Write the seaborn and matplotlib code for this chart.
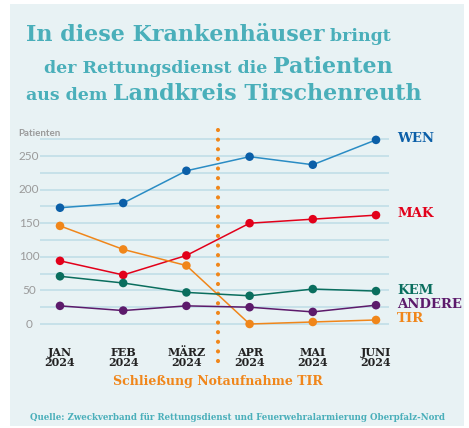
import pandas as pd
import numpy as np
import matplotlib
matplotlib.use('Agg')
import matplotlib.pyplot as plt
import matplotlib.transforms as mtransforms
from matplotlib.patches import Rectangle
import seaborn as sns

# Daten
monate = ['JAN\n2024', 'FEB\n2024', 'MÄRZ\n2024', 'APR\n2024', 'MAI\n2024', 'JUNI\n2024']
wen = [173, 180, 228, 249, 237, 274]
mak = [94, 73, 102, 150, 156, 162]
tir = [146, 111, 87, 0, 3, 6]
kem = [71, 61, 47, 42, 52, 49]
andere = [27, 20, 27, 25, 18, 28]
serien = ['WEN', 'MAK', 'TIR', 'KEM', 'ANDERE']
farben = {'WEN': '#0b5fa8', 'MAK': '#e2001a', 'TIR': '#f0861a',
          'KEM': '#0a6e5e', 'ANDERE': '#5c1a6b'}
linienfarben = {'WEN': '#2a8cc4', 'MAK': '#e2001a', 'TIR': '#f0861a',
                'KEM': '#0a6e5e', 'ANDERE': '#5c1a6b'}
y_ticks = [0, 50, 100, 150, 200, 250]
grid_werte = list(range(0, 276, 25))

df = pd.DataFrame({'monat': list(range(len(monate))) * 5,
                   'wert': wen + mak + tir + kem + andere,
                   'serie': np.repeat(serien, len(monate))})

W, H = 469, 428
fig = plt.figure(figsize=(W / 100, H / 100), dpi=100)
fig.patch.set_facecolor('white')
bg = '#e8f2f4'
fig.patches.append(Rectangle((10 / W, 1 - 426 / H), 454 / W, 422 / H,
                             transform=fig.transFigure, facecolor=bg,
                             edgecolor='none', zorder=-5))

serif = 'DejaVu Serif'
titel_farbe = '#4aafba'

# Achse: links 40px, rechts 389px, oben 125px, unten 340px
ax = fig.add_axes([40 / W, 1 - 340 / H, 349 / W, 215 / H])
ax.set_facecolor('none')
ax.set_xlim(-20 / 63.2, 5 + 13 / 63.2)
ax.set_ylim(-16 / 0.672, (324 - 125) / 0.672)

for g in grid_werte:
    ax.axhline(g, color='#c4e0e8', lw=1.3, zorder=1)

for s in serien:
    sub = df[df['serie'] == s]
    sns.lineplot(data=sub, x='monat', y='wert', ax=ax, color=linienfarben[s],
                 lw=1.1, zorder=3, legend=False)
    sns.scatterplot(data=sub, x='monat', y='wert', ax=ax, color=farben[s],
                    s=38, edgecolor='none', zorder=4, legend=False)

ax.plot([2.5, 2.5], [(324 - 130) / 0.672, (324 - 366) / 0.672], color='#f0861a',
        ls=(0, (0.01, 2.3)), lw=3, dash_capstyle='round', clip_on=False, zorder=2)

for sp in ax.spines.values():
    sp.set_visible(False)
ax.set_xlabel('')
ax.set_ylabel('')
ax.set_xticks(range(len(monate)))
ax.set_xticklabels(monate, fontfamily=serif, fontweight='bold', fontsize=8,
                   color='#222222', linespacing=0.85)
ax.tick_params(axis='x', length=0, pad=5)
ax.set_yticks([])

ytr = mtransforms.blended_transform_factory(fig.transFigure, ax.transData)
for t in y_ticks:
    ax.text(29 / W, t, str(t), transform=ytr, ha='center', va='center',
            fontsize=8.5, color='#9a9a9a', fontfamily='Lato')
fig.text(18 / W, 1 - 133 / H, 'Patienten', ha='left', va='center',
         fontsize=7, color='#9a9a9a', fontweight='bold', fontfamily='Lato')

# Reihenbeschriftungen rechts
label_y = {'WEN': 138, 'MAK': 213, 'KEM': 290.5, 'ANDERE': 304, 'TIR': 318.5}
for s, py in label_y.items():
    fig.text(397 / W, 1 - py / H, s, ha='left', va='center', fontsize=9.5,
             fontweight='bold', fontfamily=serif, color=farben[s])

fig.text(218 / W, 1 - 382 / H, 'Schließung Notaufnahme TIR', ha='center',
         va='center', fontsize=9, fontweight='bold', fontfamily=serif,
         color='#f0861a')
fig.text(237 / W, 1 - 417 / H,
         'Quelle: Zweckverband für Rettungsdienst und Feuerwehralarmierung Oberpfalz-Nord',
         ha='center', va='center', fontsize=6.2, fontweight='bold',
         fontfamily=serif, color=titel_farbe)

# Titel aus Teilen zusammensetzen
renderer = fig.canvas.get_renderer()
gross, klein = 16, 12.5
zeilen = [
    (26, 41, [('In diese Krankenhäuser', gross), (' bringt', klein)]),
    (44, 73, [('der Rettungsdienst die ', klein), ('Patienten', gross)]),
    (26, 100, [('aus dem ', klein), ('Landkreis Tirschenreuth', gross)]),
]
for x0, base, teile in zeilen:
    x = x0
    for txt, fs in teile:
        t = fig.text(x / W, 1 - base / H, txt, ha='left', va='baseline',
                     fontsize=fs, fontweight='bold', fontfamily=serif,
                     color=titel_farbe)
        bb = t.get_window_extent(renderer)
        x += bb.width

fig.savefig('out.png', dpi=100, facecolor='white')
